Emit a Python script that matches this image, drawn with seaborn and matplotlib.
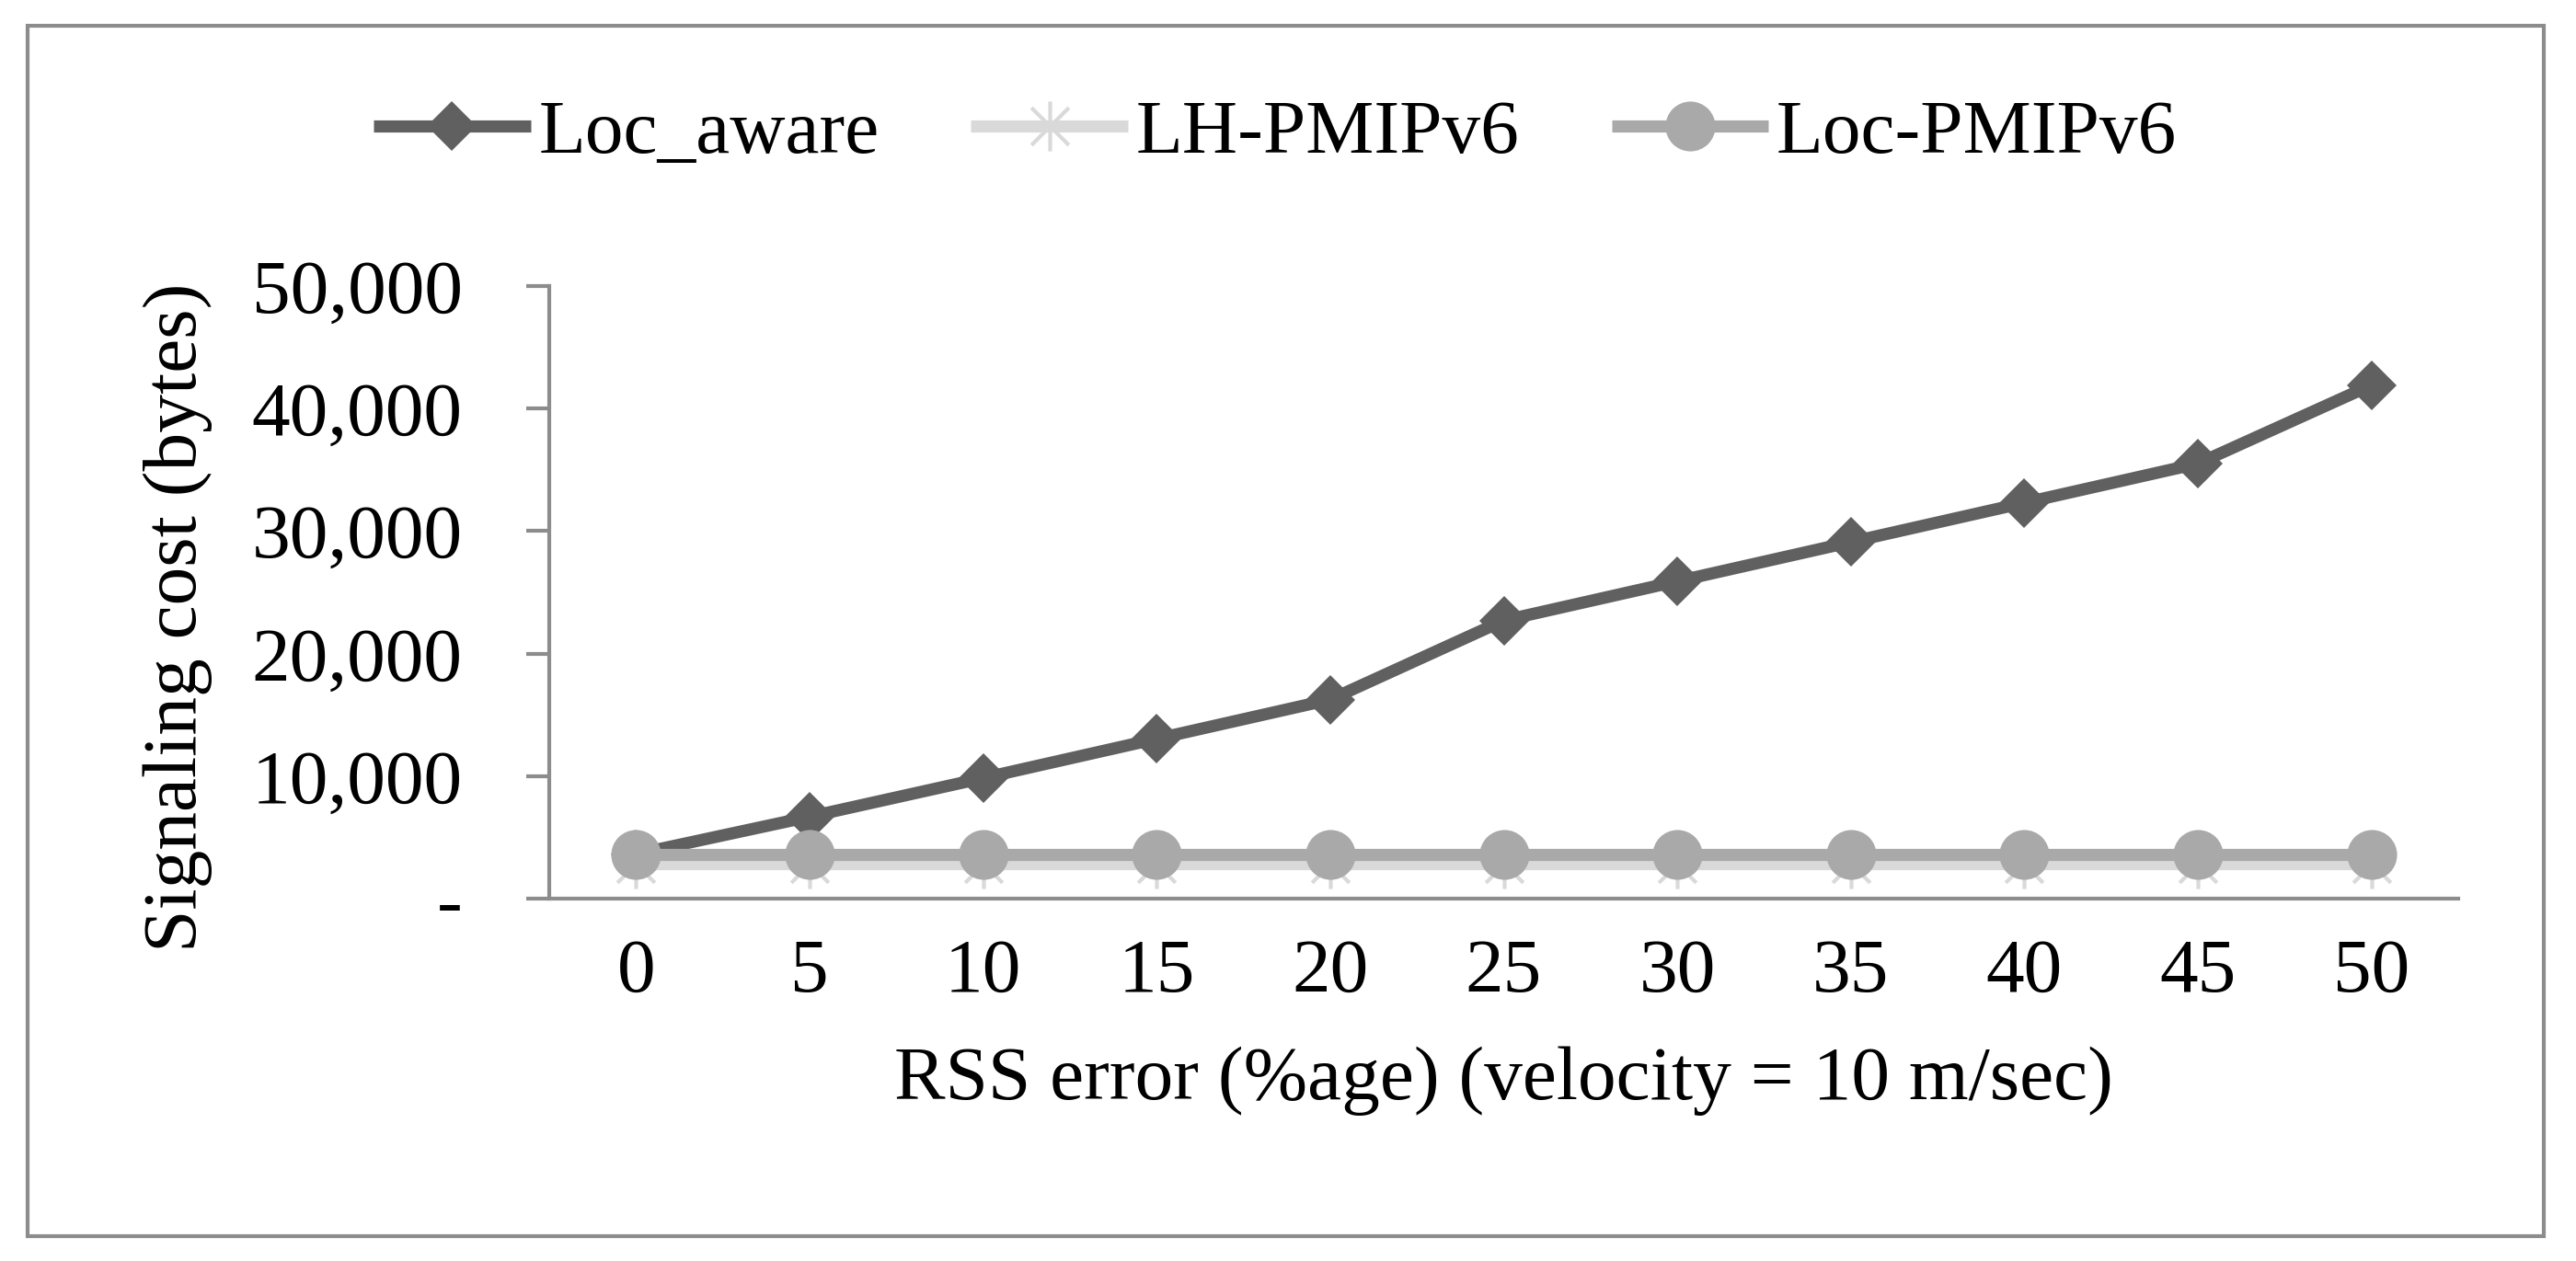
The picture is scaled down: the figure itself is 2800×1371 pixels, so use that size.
# Signaling cost vs RSS error
import numpy as np
import pandas as pd
import matplotlib
matplotlib.use("Agg")
import matplotlib.pyplot as plt
from matplotlib.path import Path
from matplotlib.patches import Rectangle
import seaborn as sns

# --- data ---
rss_error = [0, 5, 10, 15, 20, 25, 30, 35, 40, 45, 50]
loc_aware = [3650, 6700, 9850, 13050, 16250, 22700, 25900, 29100, 32300, 35500, 41900]
lh_pmipv6 = [2850] * 11
loc_pmipv6 = [3620] * 11

series_names = ["Loc_aware", "LH-PMIPv6", "Loc-PMIPv6"]
y_ticks = [0, 10000, 20000, 30000, 40000, 50000]

# star marker like excel: vertical bar + an X
star = Path(
    [(0, -1), (0, 1), (-0.75, -0.75), (0.75, 0.75), (-0.75, 0.75), (0.75, -0.75)],
    [Path.MOVETO, Path.LINETO, Path.MOVETO, Path.LINETO, Path.MOVETO, Path.LINETO],
)

sns.set_style("white")
plt.rcParams["font.family"] = ["Liberation Serif", "DejaVu Serif"]
plt.rcParams["text.color"] = "black"
plt.rcParams["axes.labelcolor"] = "black"
plt.rcParams["xtick.labelcolor"] = "black"
plt.rcParams["ytick.labelcolor"] = "black"

axis_grey = "#8c8c8c"
fs = 60

fig = plt.figure(figsize=(28, 13.71), dpi=100)
ax = fig.add_axes([0.2132, 0.2872, 0.7411, 0.4862])

pos = np.arange(len(rss_error))
df = pd.DataFrame({"pos": pos, "Loc_aware": loc_aware,
                   "LH-PMIPv6": lh_pmipv6, "Loc-PMIPv6": loc_pmipv6})

styles = {
    "Loc_aware": dict(color="#606060", marker="D", markersize=27.5, mec="#606060", mew=0),
    "LH-PMIPv6": dict(color="#d9d9d9", marker=star, markersize=39, mec="#d9d9d9",
                      mfc="none", mew=3),
    "Loc-PMIPv6": dict(color="#a9a9a9", marker="o", markersize=39, mec="#a9a9a9", mew=0),
}

for name in series_names:
    sns.lineplot(data=df, x="pos", y=name, ax=ax, label=name, linewidth=9.5,
                 solid_capstyle="butt", **styles[name])

if ax.get_legend() is not None:
    ax.get_legend().remove()

ax.set_xlim(-0.5, len(rss_error) - 0.5)
ax.set_ylim(0, 50000)

ax.set_xticks(pos)
ax.set_xticklabels([str(v) for v in rss_error], fontsize=fs)
ax.set_xticks(np.arange(-0.5, len(rss_error), 1.0), minor=True)
ax.tick_params(axis="x", which="major", length=0, pad=31)
ax.tick_params(axis="x", which="minor", length=18, width=3, color=axis_grey, direction="out")

ax.set_yticks(y_ticks)
ax.set_yticklabels(["-" if v == 0 else f"{v:,}" for v in y_ticks], fontsize=fs)
ax.tick_params(axis="y", length=18, width=3, color=axis_grey, direction="out", pad=50, left=True)

for s in ["top", "right"]:
    ax.spines[s].set_visible(False)
for s in ["left", "bottom"]:
    ax.spines[s].set_color(axis_grey)
    ax.spines[s].set_linewidth(3)

ax.set_xlabel("RSS error (%age) (velocity = 10 m/sec)", fontsize=fs, labelpad=30)
ax.set_ylabel("Signaling cost (bytes)", fontsize=fs)
ax.yaxis.label.set_va("center")
ax.yaxis.set_label_coords((193 - 597) / 2075, 0.4595)

handles, labels = ax.get_legend_handles_labels()
fig.legend(handles, labels, loc="center", bbox_to_anchor=(0.495, 0.8935), ncol=3,
           frameon=False, fontsize=fs, handlelength=2.05, handletextpad=0.1,
           columnspacing=1.2, borderpad=0)

# outer chart border
fig.patches.append(Rectangle((0.0107, 0.0197), 0.9768, 0.9599, transform=fig.transFigure,
                             fill=False, edgecolor=axis_grey, linewidth=3))

fig.savefig("out.png", dpi=100)
